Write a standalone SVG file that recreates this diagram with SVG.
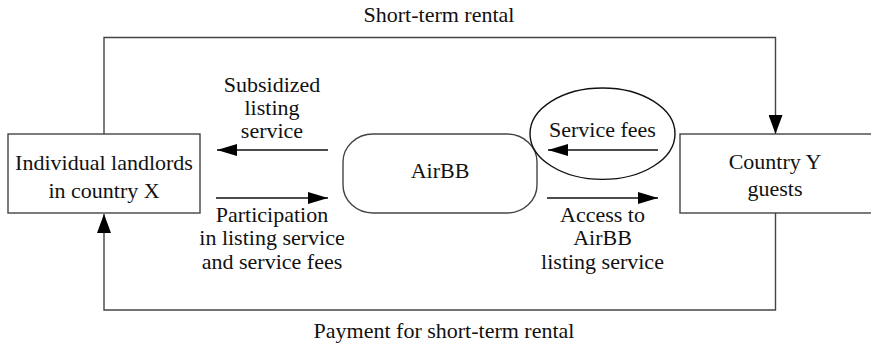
<svg xmlns="http://www.w3.org/2000/svg" width="871" height="348" viewBox="0 0 871 348" font-family="'Liberation Serif', 'DejaVu Serif', serif">
<defs>
<marker id="ah" markerUnits="userSpaceOnUse" markerWidth="20" markerHeight="12" refX="20" refY="6" orient="auto">
<path d="M0,0 L20,6 L0,12 Z" fill="#000"/>
</marker>
<marker id="av" markerUnits="userSpaceOnUse" markerWidth="19" markerHeight="14" refX="19" refY="7" orient="auto">
<path d="M0,0 L19,7 L0,14 Z" fill="#000"/>
</marker>
</defs>
<style>
text{font-family:'Liberation Serif','DejaVu Serif',serif;font-size:22px;fill:#111;text-anchor:middle}
.box{fill:#fff;stroke:#444;stroke-width:1.4}
.con{fill:none;stroke:#444;stroke-width:1.4}
.arr{fill:none;stroke:#111;stroke-width:1.4}
</style>
<rect width="871" height="348" fill="#fff"/>
<g id="connectors">
<polyline class="con" points="104,134 104,37.5 775.5,37.5 775.5,134" marker-end="url(#av)"/>
<polyline class="con" points="775.5,213 775.5,310 104,310 104,214" marker-end="url(#av)"/>
<line class="arr" x1="328" y1="150" x2="217" y2="150" marker-end="url(#ah)"/>
<line class="arr" x1="216" y1="198" x2="328" y2="198" marker-end="url(#ah)"/>
<line class="arr" x1="658" y1="150" x2="548" y2="150" marker-end="url(#ah)"/>
<line class="arr" x1="547" y1="198" x2="658" y2="198" marker-end="url(#ah)"/>
<text x="439" y="22">Short-term rental</text>
<text x="444" y="338">Payment for short-term rental</text>
<text x="272" y="92">Subsidized</text>
<text x="272" y="115">listing</text>
<text x="272" y="138">service</text>
<text x="272" y="222">Participation</text>
<text x="272" y="245">in listing service</text>
<text x="272" y="269">and service fees</text>
<text x="602.5" y="222">Access to</text>
<text x="602.5" y="245">AirBB</text>
<text x="602.5" y="269">listing service</text>
</g>
<g id="landlords">
<rect class="box" x="8" y="134" width="192" height="79"/>
<text x="104" y="170">Individual landlords</text>
<text x="104" y="198">in country X</text>
</g>
<g id="airbb">
<rect class="box" x="343" y="134" width="194" height="79" rx="30" ry="28"/>
<text x="440" y="178">AirBB</text>
</g>
<g id="service-fees">
<ellipse cx="602.5" cy="133.7" rx="72.5" ry="45.7" fill="none" stroke="#111" stroke-width="1.4"/>
<text x="602.5" y="137">Service fees</text>
</g>
<g id="guests">
<rect class="box" x="680" y="134" width="193" height="79"/>
<text x="775" y="169">Country Y</text>
<text x="775" y="196">guests</text>
</g>
</svg>
